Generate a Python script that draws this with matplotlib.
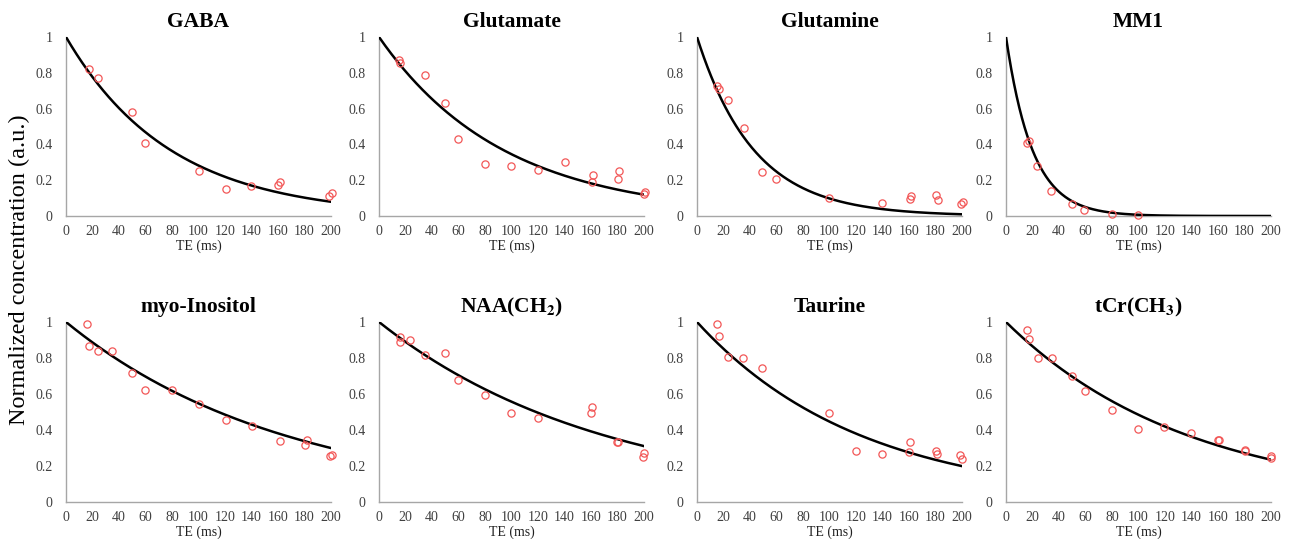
import numpy as np
import matplotlib
matplotlib.use("Agg")
import matplotlib.pyplot as plt

plt.rcParams['font.family'] = ['Liberation Serif', 'DejaVu Serif']
plt.rcParams['mathtext.fontset'] = 'stix'

titles = ["GABA", "Glutamate", "Glutamine", "MM1",
          "myo-Inositol", r"NAA(CH$_\mathbf{2}$)", "Taurine", r"tCr(CH$_\mathbf{3}$)"]

# fitted T2 decay constants (ms)
t2_fit = [79, 94, 43, 20, 166, 171, 124, 138]

gaba_te = [17.6, 24.1, 49.9, 59.7, 100.1, 120.5, 139.8, 160.1, 161.4, 198.7, 200.5]
gaba_c = [0.822, 0.770, 0.579, 0.410, 0.250, 0.152, 0.167, 0.171, 0.191, 0.111, 0.126]

glu_te = [15.4, 15.9, 34.6, 49.5, 59.6, 80.1, 99.7, 120.2, 140.2, 161.4, 160.9, 180.1, 181.3, 200.0, 200.5]
glu_c = [0.872, 0.852, 0.785, 0.633, 0.432, 0.288, 0.280, 0.256, 0.302, 0.228, 0.191, 0.204, 0.250, 0.124, 0.135]

gln_te = [15.1, 16.4, 23.5, 35.1, 49.2, 59.8, 99.6, 139.7, 160.4, 161.7, 180.6, 181.8, 199.0, 200.5]
gln_c = [0.727, 0.709, 0.646, 0.490, 0.247, 0.204, 0.098, 0.071, 0.093, 0.111, 0.117, 0.087, 0.067, 0.076]

mm1_te = [15.6, 17.1, 23.6, 34.1, 49.7, 59.2, 79.8, 99.6]
mm1_c = [0.408, 0.417, 0.282, 0.139, 0.067, 0.033, 0.013, 0.004]

ins_te = [15.9, 17.1, 23.9, 35.0, 49.9, 59.7, 80.1, 100.3, 120.7, 140.3, 161.7, 180.6, 181.9, 199.5, 201.0]
ins_c = [0.989, 0.868, 0.839, 0.839, 0.718, 0.625, 0.622, 0.544, 0.458, 0.425, 0.340, 0.315, 0.345, 0.256, 0.260]

naa_te = [15.6, 16.1, 23.6, 35.0, 49.6, 59.4, 79.7, 99.6, 119.7, 160.8, 160.3, 179.9, 180.6, 199.2, 199.7]
naa_c = [0.915, 0.887, 0.900, 0.816, 0.826, 0.679, 0.592, 0.494, 0.469, 0.527, 0.494, 0.336, 0.336, 0.252, 0.271]

tau_te = [15.3, 16.6, 23.6, 35.0, 49.3, 99.6, 120.0, 139.9, 161.0, 160.3, 180.1, 181.4, 198.5, 200.3]
tau_c = [0.989, 0.924, 0.805, 0.801, 0.745, 0.495, 0.284, 0.265, 0.336, 0.278, 0.286, 0.265, 0.260, 0.237]

tcr_te = [15.8, 17.1, 23.9, 34.7, 49.7, 59.8, 80.2, 99.5, 119.6, 139.7, 160.3, 160.8, 180.7, 180.7, 200.0, 199.7]
tcr_c = [0.954, 0.907, 0.798, 0.801, 0.699, 0.616, 0.512, 0.405, 0.416, 0.382, 0.343, 0.345, 0.288, 0.283, 0.254, 0.243]

te_data = [gaba_te, glu_te, gln_te, mm1_te, ins_te, naa_te, tau_te, tcr_te]
c_data = [gaba_c, glu_c, gln_c, mm1_c, ins_c, naa_c, tau_c, tcr_c]

xticks = list(range(0, 201, 20))
yticks = [0, 0.2, 0.4, 0.6, 0.8, 1.0]
ytick_labels = ["0", "0.2", "0.4", "0.6", "0.8", "1"]

W, H = 1291, 539
fig = plt.figure(figsize=(W / 100, H / 100), dpi=100)

lefts = [66, 379, 697, 1006]
width = 265
rows = [(37, 216), (322, 502)]

te_curve = np.linspace(0, 200, 300)
for i in range(8):
    r, c = divmod(i, 4)
    top, bot = rows[r]
    ax = fig.add_axes([lefts[c] / W, 1 - bot / H, width / W, (bot - top) / H])
    ax.plot(te_curve, np.exp(-te_curve / t2_fit[i]), color='black', lw=1.8, zorder=3)
    ax.plot(te_data[i], c_data[i], 'o', mfc='none', mec='#f25757', mew=0.9, ms=5.2,
            clip_on=False, zorder=4)
    ax.set_xlim(0, 200)
    ax.set_ylim(0, 1)
    ax.set_xticks(xticks)
    ax.set_yticks(yticks)
    ax.set_yticklabels(ytick_labels)
    ax.tick_params(length=0, labelsize=10, colors='#404040')
    ax.tick_params(axis='x', pad=6.5)
    ax.tick_params(axis='y', pad=9.5)
    for s in ['top', 'right']:
        ax.spines[s].set_visible(False)
    for s in ['left', 'bottom']:
        ax.spines[s].set_color('#a6a6a6')
        ax.spines[s].set_linewidth(1.0)
    ax.set_xlabel("TE (ms)", fontsize=10, color='#202020', labelpad=1)
    ax.set_title(titles[i], fontsize=15.5, fontweight='bold', pad=7)

fig.text(19 / W, 1 - 270 / H, "Normalized concentration (a.u.)", rotation=90,
         ha='center', va='center', fontsize=17.5)

fig.savefig("out.png", dpi=100)
